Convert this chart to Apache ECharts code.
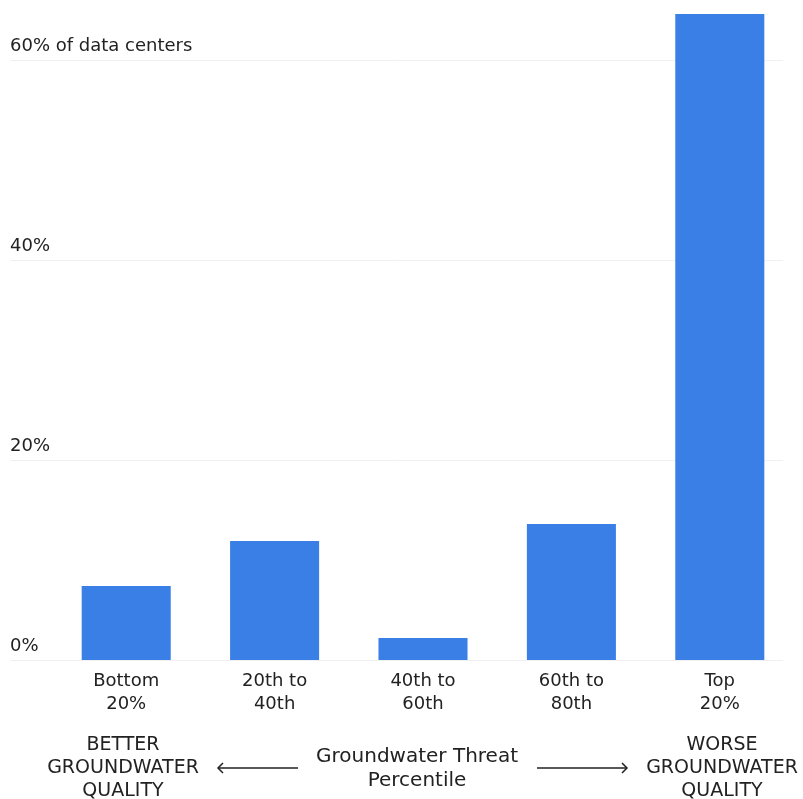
<!DOCTYPE html>
<html>
<head>
<meta charset="utf-8">
<script src="https://cdn.jsdelivr.net/npm/echarts@6/dist/echarts.min.js"></script>
<style>html,body{margin:0;padding:0;background:#fff;}#c{width:803px;height:799px;}</style>
</head>
<body>
<div id="c"></div>
<script>
const categories = ['Bottom\n20%', '20th to\n40th', '40th to\n60th', '60th to\n80th', 'Top\n20%'];
const shares = [7.4, 11.9, 2.2, 13.6, 64.6];
const yTicks = [0, 20, 40, 60];
const yTickLabels = ['0%', '20%', '40%', '60% of data centers'];

const FONT = 'DejaVu Sans';
const TXT = '#222';
const chart = echarts.init(document.getElementById('c'));
const gridBottom = 139; // 0% line at y=660
chart.setOption({
  animation: false,
  grid: [
    {left: 10, right: 20, top: 60, bottom: gridBottom},
    {left: 52, right: 9, top: 0, bottom: gridBottom}
  ],
  xAxis: [
    {gridIndex: 0, type: 'value', min: 0, max: 1, show: false},
    {gridIndex: 1, type: 'category', data: categories,
     axisLine: {show: false}, axisTick: {show: false},
     axisLabel: {color: TXT, fontFamily: FONT, fontSize: 18, lineHeight: 23, margin: 10}}
  ],
  yAxis: [
    {gridIndex: 0, type: 'value', min: 0, max: 60, interval: 20,
     axisLine: {show: false}, axisTick: {show: false},
     splitLine: {lineStyle: {color: '#f0f0f0', width: 1}},
     axisLabel: {inside: true, margin: 0, verticalAlign: 'bottom', padding: [0, 0, 5, 0],
       color: TXT, fontFamily: FONT, fontSize: 18,
       formatter: v => yTickLabels[yTicks.indexOf(v)]}},
    {gridIndex: 1, type: 'value', min: 0, max: 66, show: false}
  ],
  series: [{
    type: 'bar', xAxisIndex: 1, yAxisIndex: 1, data: shares, barWidth: '60%',
    itemStyle: {color: '#3a7fe6'}
  }],
  graphic: [
    {type: 'text', style: {text: 'BETTER\nGROUNDWATER\nQUALITY', x: 123, y: 734, align: 'center', fill: TXT, font: '19px "' + FONT + '"', lineHeight: 23}},
    {type: 'text', style: {text: 'WORSE\nGROUNDWATER\nQUALITY', x: 722, y: 734, align: 'center', fill: TXT, font: '19px "' + FONT + '"', lineHeight: 23}},
    {type: 'text', style: {text: 'Groundwater Threat\nPercentile', x: 417, y: 745, align: 'center', fill: TXT, font: '20px "' + FONT + '"', lineHeight: 24}},
    {type: 'line', shape: {x1: 218, y1: 768, x2: 298, y2: 768}, style: {stroke: TXT, lineWidth: 1.5}},
    {type: 'polyline', shape: {points: [[223, 763], [218, 768], [223, 773]]}, style: {stroke: TXT, lineWidth: 1.5, fill: null}},
    {type: 'line', shape: {x1: 537, y1: 768, x2: 627, y2: 768}, style: {stroke: TXT, lineWidth: 1.5}},
    {type: 'polyline', shape: {points: [[622, 763], [627, 768], [622, 773]]}, style: {stroke: TXT, lineWidth: 1.5, fill: null}}
  ]
});
</script>
</body>
</html>
